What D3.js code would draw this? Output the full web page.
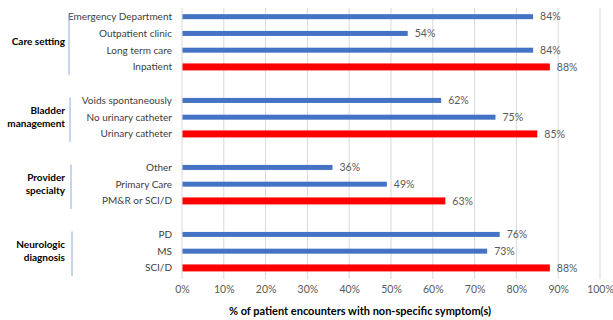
<!DOCTYPE html>
<html>
<head>
<meta charset="utf-8">
<script src="https://cdn.jsdelivr.net/npm/d3@7/dist/d3.min.js"></script>
<style>
  html, body { margin: 0; padding: 0; background: #fff; }
  svg text { font-family: Lato, "Open Sans", sans-serif; }
</style>
</head>
<body>
<svg id="chart" width="613" height="320"></svg>
<script>
// Groups of categories, top to bottom
const groups = ["Care setting", "Bladder management", "Provider specialty", "Neurologic diagnosis"];
const groupLines = [["Care setting"], ["Bladder", "management"], ["Provider", "specialty"], ["Neurologic", "diagnosis"]];
const categories = [
  ["Emergency Department", "Outpatient clinic", "Long term care", "Inpatient"],
  ["Voids spontaneously", "No urinary catheter", "Urinary catheter"],
  ["Other", "Primary Care", "PM&R or SCI/D"],
  ["PD", "MS", "SCI/D"]
];
const values = [
  [84, 54, 84, 88],
  [62, 75, 85],
  [36, 49, 63],
  [76, 73, 88]
];
// Reference category in each group is highlighted
const highlighted = [
  [false, false, false, true],
  [false, false, true],
  [false, false, true],
  [false, false, true]
];
const ticks = [0, 10, 20, 30, 40, 50, 60, 70, 80, 90, 100];
const xTitle = "% of patient encounters with non-specific symptom(s)";

// Build slot list: each group followed by an empty spacer slot
const rows = [];
const slots = [];
groups.forEach((g, gi) => {
  categories[gi].forEach((c, ci) => {
    const key = g + "|" + c;
    slots.push(key);
    rows.push({ group: gi, label: c, value: values[gi][ci], hi: highlighted[gi][ci], key });
  });
  if (gi < groups.length - 1) slots.push("gap" + gi);
});

const svg = d3.select("#chart");
const x = d3.scaleLinear().domain([0, 100]).range([182, 600]);
const y = d3.scaleBand().domain(slots).range([8.3, 276.3]);

// Vertical gridlines
svg.append("g").selectAll("line").data(ticks.slice(1)).join("line")
  .attr("x1", d => x(d)).attr("x2", d => x(d))
  .attr("y1", 8).attr("y2", 279)
  .attr("stroke", "#d9d9d9").attr("stroke-width", 1);

// Category axis line
svg.append("line")
  .attr("x1", x(0)).attr("x2", x(0))
  .attr("y1", 8).attr("y2", 279)
  .attr("stroke", "#d9d9d9").attr("stroke-width", 1);

// Bars
svg.append("g").selectAll("rect").data(rows).join("rect")
  .attr("x", x(0) + 0.5)
  .attr("y", d => y(d.key) + y.bandwidth() / 2 - (d.hi ? 3.5 : 2.5))
  .attr("width", d => x(d.value) - x(0) - 0.5)
  .attr("height", d => d.hi ? 7 : 5)
  .attr("fill", d => d.hi ? "#ff0000" : "#4472c4");

// Value labels
svg.append("g").selectAll("text").data(rows).join("text")
  .attr("x", d => x(d.value) + 7)
  .attr("y", d => y(d.key) + y.bandwidth() / 2)
  .attr("dy", "0.35em")
  .attr("font-size", 10.5)
  .attr("fill", "#595959")
  .text(d => d.value + "%");

// Category labels
svg.append("g").selectAll("text").data(rows).join("text")
  .attr("x", 172)
  .attr("y", d => y(d.key) + y.bandwidth() / 2)
  .attr("dy", "0.35em")
  .attr("text-anchor", "end")
  .attr("font-size", 10)
  .attr("fill", "#404040")
  .text(d => d.label);

// Group brackets and labels
groups.forEach((g, gi) => {
  const keys = rows.filter(r => r.group === gi).map(r => r.key);
  const top = y(keys[0]) + y.bandwidth() / 2 - 3;
  const bot = y(keys[keys.length - 1]) + y.bandwidth() / 2 + 8;
  const lx = 69 + gi;
  svg.append("line")
    .attr("x1", lx).attr("x2", lx).attr("y1", top).attr("y2", bot)
    .attr("stroke", "#8faadc").attr("stroke-width", 1);
  const mid = (y(keys[0]) + y(keys[keys.length - 1]) + y.bandwidth()) / 2;
  const lines = groupLines[gi];
  const lh = 12.5;
  const t = svg.append("text")
    .attr("x", 65)
    .attr("text-anchor", "end")
    .attr("font-size", 10)
    .attr("font-weight", "bold")
    .attr("fill", "#000");
  lines.forEach((ln, li) => {
    t.append("tspan")
      .attr("x", 65)
      .attr("y", mid + (li - (lines.length - 1) / 2) * lh)
      .attr("dy", "0.35em")
      .text(ln);
  });
});

// Value axis tick labels
const xAxis = d3.axisBottom(x).tickValues(ticks).tickFormat(d => d + "%").tickSize(0).tickPadding(0);
const ax = svg.append("g").attr("transform", "translate(0,286)").call(xAxis);
ax.select(".domain").remove();
ax.selectAll("text").attr("font-size", 10.5).attr("fill", "#595959")
  .attr("font-family", "Lato, 'Open Sans', sans-serif").attr("dy", "0.71em");

// Axis title
svg.append("text")
  .attr("x", 360).attr("y", 311)
  .attr("dy", "0.35em")
  .attr("text-anchor", "middle")
  .attr("font-size", 11)
  .attr("font-weight", "bold")
  .attr("fill", "#000")
  .text(xTitle);
</script>
</body>
</html>
